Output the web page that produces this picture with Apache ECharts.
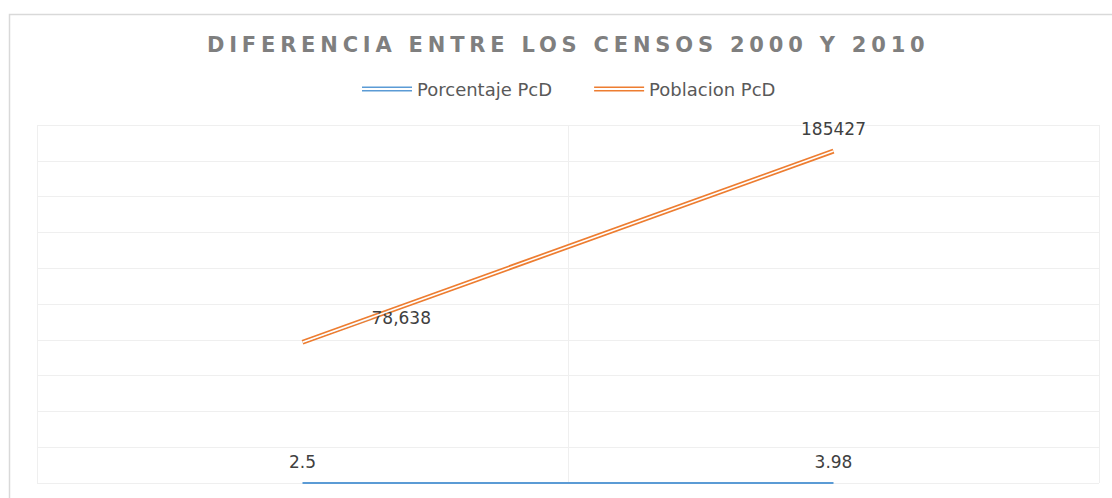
<!DOCTYPE html>
<html>
<head>
<meta charset="utf-8">
<script src="https://cdn.jsdelivr.net/npm/echarts@6/dist/echarts.min.js"></script>
<style>
  html, body { margin: 0; padding: 0; background: #fff; }
  #chart { width: 1112px; height: 498px; }
</style>
</head>
<body>
<div id="chart"></div>
<script>
// datos
const categorias = ['2000', '2010'];
const porcentajePcD = [2.5, 3.98];
const poblacionPcD = [78638, 185427];
const etiquetasPoblacion = ['78,638', '185427'];
const etiquetasPorcentaje = ['2.5', '3.98'];

const azul = '#5b9bd5';
const naranja = '#ed7d31';
const fuente = '"DejaVu Sans", "Noto Sans", sans-serif';
const titulo = 'DIFERENCIA ENTRE LOS CENSOS 2000 Y 2010';

let myChart = echarts.init(document.getElementById('chart'), null, { renderer: 'svg' });

let option = {
  animation: false,
  title: {
    text: titulo,
    left: 202,
    top: 29,
    textStyle: { fontSize: 21, fontWeight: 'bold', color: '#7f7f7f', fontFamily: fuente }
  },
  legend: {
    data: ['Porcentaje PcD', 'Poblacion PcD'],
    top: 75,
    left: 357,
    itemWidth: 50,
    itemHeight: 5,
    itemGap: 42,
    symbolKeepAspect: false,
    icon: 'path://M0,0H50V1.6H0Z M0,3.4H50V5H0Z',
    textStyle: { fontSize: 18, color: '#595959', fontFamily: fuente }
  },
  grid: { left: 37, right: 13, top: 125, bottom: 15, containLabel: false },
  xAxis: {
    type: 'category',
    data: categorias,
    boundaryGap: true,
    axisLine: { show: false },
    axisTick: { show: false },
    axisLabel: { show: false },
    splitLine: { show: true, lineStyle: { color: '#efefef', width: 1 } }
  },
  yAxis: {
    type: 'value',
    min: 0,
    max: 200000,
    interval: 20000,
    axisLine: { show: false },
    axisTick: { show: false },
    axisLabel: { show: false },
    splitLine: { show: true, lineStyle: { color: '#efefef', width: 1 } }
  },
  series: [
    {
      name: 'Porcentaje PcD',
      type: 'line',
      data: porcentajePcD,
      symbol: 'circle',
      symbolSize: 0,
      clip: false,
      color: azul,
      lineStyle: { color: azul, width: 2 },
      label: {
        show: true,
        position: 'top',
        distance: 12,
        fontSize: 17,
        color: '#404040',
        fontFamily: fuente,
        formatter: p => etiquetasPorcentaje[p.dataIndex]
      },
      z: 3
    },
    {
      name: 'Poblacion PcD',
      type: 'line',
      data: poblacionPcD.map((v, i) => i === 0
        ? { value: v, label: { position: 'right', distance: 5 }, labelLine: { show: true } }
        : v),
      symbol: 'circle',
      symbolSize: 0,
      color: naranja,
      lineStyle: { color: naranja, width: 5 },
      label: {
        show: true,
        position: 'top',
        distance: 14,
        fontSize: 17,
        color: '#404040',
        fontFamily: fuente,
        formatter: p => etiquetasPoblacion[p.dataIndex]
      },
      labelLine: { show: false, lineStyle: { color: '#bfbfbf', width: 1 } },
      labelLayout: p => p.dataIndex === 0 ? { dx: 64, dy: -24 } : {},
      z: 3
    },
    {
      name: 'poblacion-centro',
      type: 'line',
      data: poblacionPcD,
      symbol: 'none',
      silent: true,
      lineStyle: { color: '#ffffff', width: 1.6 },
      z: 4
    }
  ],
  graphic: [
    {
      type: 'rect',
      left: 7,
      top: 12,
      shape: { width: 1200, height: 600 },
      style: { fill: 'none', stroke: '#d9d9d9', lineWidth: 1.5 },
      silent: true,
      z: -10
    }
  ]
};

myChart.setOption(option);

// espaciado de letras del título, como en el original
function espaciarTitulo() {
  document.querySelectorAll('#chart text').forEach(t => {
    if (t.textContent === titulo) t.style.letterSpacing = '4.8px';
  });
}
espaciarTitulo();
myChart.on('finished', espaciarTitulo);
</script>
</body>
</html>
